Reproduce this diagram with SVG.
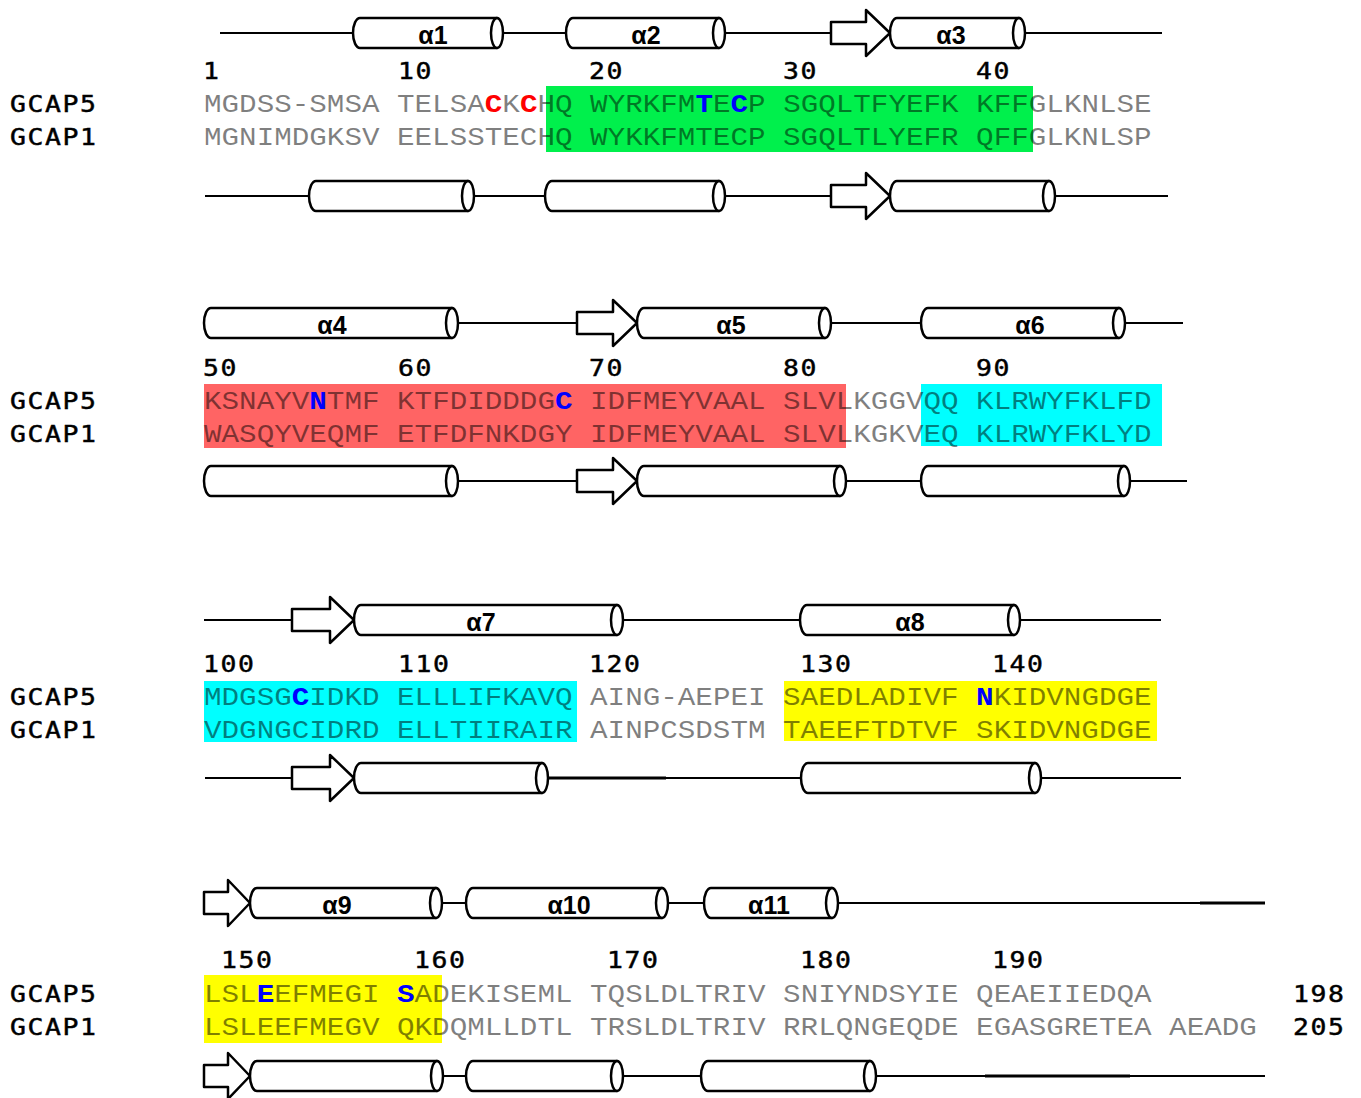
<svg xmlns="http://www.w3.org/2000/svg" width="1361" height="1098" viewBox="0 0 1361 1098">
<style>
.seq{font-family:"Liberation Mono",monospace;font-size:29.25px;fill:#000;fill-opacity:.5}
.r{fill:#ff0000;fill-opacity:1;font-weight:bold}
.b{fill:#0000ff;fill-opacity:1;font-weight:bold}
.num{font-family:"DejaVu Sans Mono",monospace;font-size:23px;letter-spacing:1.4px;fill:#000;stroke:#000;stroke-width:.45}
.hl{font-family:"Liberation Sans",sans-serif;font-weight:bold;font-size:25px;text-anchor:middle;fill:#000}
.cyl,.arr{fill:#fff;stroke:#000;stroke-width:2.5;stroke-linejoin:round}
.bb{stroke:#000;stroke-width:2;fill:none}
.bt{stroke:#000;stroke-width:2.8;fill:none}
</style>
<rect width="1361" height="1098" fill="#fff"/>
<g id="highlights">
<rect x="546" y="86" width="487" height="66" fill="#00f04c"/>
<rect x="204" y="384" width="642" height="64" fill="#ff6464"/>
<rect x="921" y="384" width="241" height="62" fill="#00ffff"/>
<rect x="204" y="681" width="373" height="61" fill="#00ffff"/>
<rect x="784" y="681" width="373" height="60" fill="#ffff00"/>
<rect x="204" y="975" width="238" height="68" fill="#ffff00"/>
</g>
<g id="connectors">
<path class="bb" d="M220,33H353M497,33H566M719,33H831M1019,33H1162"/>
<path class="bb" d="M205,196H309M468,196H545M719,196H831M1049,196H1168"/>
<path class="bb" d="M452,323H577M825,323H921M1119,323H1183"/>
<path class="bb" d="M452,481H577M840,481H921M1124,481H1187"/>
<path class="bb" d="M204,620H292M617,620H800M1014,620H1161"/>
<path class="bb" d="M205,778H292M542,778H801M1035,778H1181"/>
<path class="bt" d="M548,778H666"/>
<path class="bb" d="M436,903H466M662,903H704M832,903H1265"/>
<path class="bt" d="M1200,903H1265"/>
<path class="bb" d="M437,1076H466M617,1076H701M870,1076H1265"/>
<path class="bt" d="M985,1076H1130"/>
</g>
<g id="row1-top">
<g id="a1"><path class="cyl" d="M497,18H360A7,15 0 0 0 360,48H497Z"/><ellipse class="cyl" cx="497" cy="33" rx="6" ry="15"/><text class="hl" x="433" y="44">α1</text></g>
<g id="a2"><path class="cyl" d="M719,18H573A7,15 0 0 0 573,48H719Z"/><ellipse class="cyl" cx="719" cy="33" rx="6" ry="15"/><text class="hl" x="646" y="44">α2</text></g>
<g id="s1"><path class="arr" d="M831,22H866V10L890,33L866,56V44H831Z"/></g>
<g id="a3"><path class="cyl" d="M1019,18H897A7,15 0 0 0 897,48H1019Z"/><ellipse class="cyl" cx="1019" cy="33" rx="6" ry="15"/><text class="hl" x="951" y="44">α3</text></g>
</g>
<g id="row1-bottom">
<g id="b1"><path class="cyl" d="M468,181H316A7,15 0 0 0 316,211H468Z"/><ellipse class="cyl" cx="468" cy="196" rx="6" ry="15"/></g>
<g id="b2"><path class="cyl" d="M719,181H552A7,15 0 0 0 552,211H719Z"/><ellipse class="cyl" cx="719" cy="196" rx="6" ry="15"/></g>
<g id="bs1"><path class="arr" d="M831,185H866V173L890,196L866,219V207H831Z"/></g>
<g id="b3"><path class="cyl" d="M1049,181H897A7,15 0 0 0 897,211H1049Z"/><ellipse class="cyl" cx="1049" cy="196" rx="6" ry="15"/></g>
</g>
<g id="row2-top">
<g id="a4"><path class="cyl" d="M452,308H211A7,15 0 0 0 211,338H452Z"/><ellipse class="cyl" cx="452" cy="323" rx="6" ry="15"/><text class="hl" x="332" y="334">α4</text></g>
<g id="s2"><path class="arr" d="M577,312H613V300L637,323L613,346V334H577Z"/></g>
<g id="a5"><path class="cyl" d="M825,308H644A7,15 0 0 0 644,338H825Z"/><ellipse class="cyl" cx="825" cy="323" rx="6" ry="15"/><text class="hl" x="731" y="334">α5</text></g>
<g id="a6"><path class="cyl" d="M1119,308H928A7,15 0 0 0 928,338H1119Z"/><ellipse class="cyl" cx="1119" cy="323" rx="6" ry="15"/><text class="hl" x="1030" y="334">α6</text></g>
</g>
<g id="row2-bottom">
<g id="b4"><path class="cyl" d="M452,466H211A7,15 0 0 0 211,496H452Z"/><ellipse class="cyl" cx="452" cy="481" rx="6" ry="15"/></g>
<g id="bs2"><path class="arr" d="M577,470H613V458L637,481L613,504V492H577Z"/></g>
<g id="b5"><path class="cyl" d="M840,466H644A7,15 0 0 0 644,496H840Z"/><ellipse class="cyl" cx="840" cy="481" rx="6" ry="15"/></g>
<g id="b6"><path class="cyl" d="M1124,466H928A7,15 0 0 0 928,496H1124Z"/><ellipse class="cyl" cx="1124" cy="481" rx="6" ry="15"/></g>
</g>
<g id="row3-top">
<g id="s3"><path class="arr" d="M292,609H330V597L354,620L330,643V631H292Z"/></g>
<g id="a7"><path class="cyl" d="M617,605H361A7,15 0 0 0 361,635H617Z"/><ellipse class="cyl" cx="617" cy="620" rx="6" ry="15"/><text class="hl" x="481" y="631">α7</text></g>
<g id="a8"><path class="cyl" d="M1014,605H807A7,15 0 0 0 807,635H1014Z"/><ellipse class="cyl" cx="1014" cy="620" rx="6" ry="15"/><text class="hl" x="910" y="631">α8</text></g>
</g>
<g id="row3-bottom">
<g id="bs3"><path class="arr" d="M292,767H330V755L354,778L330,801V789H292Z"/></g>
<g id="b7"><path class="cyl" d="M542,763H361A7,15 0 0 0 361,793H542Z"/><ellipse class="cyl" cx="542" cy="778" rx="6" ry="15"/></g>
<g id="b8"><path class="cyl" d="M1035,763H808A7,15 0 0 0 808,793H1035Z"/><ellipse class="cyl" cx="1035" cy="778" rx="6" ry="15"/></g>
</g>
<g id="row4-top">
<g id="s4"><path class="arr" d="M204,892H228V880L250,903L228,926V914H204Z"/></g>
<g id="a9"><path class="cyl" d="M436,888H257A7,15 0 0 0 257,918H436Z"/><ellipse class="cyl" cx="436" cy="903" rx="6" ry="15"/><text class="hl" x="337" y="914">α9</text></g>
<g id="a10"><path class="cyl" d="M662,888H473A7,15 0 0 0 473,918H662Z"/><ellipse class="cyl" cx="662" cy="903" rx="6" ry="15"/><text class="hl" x="569" y="914">α10</text></g>
<g id="a11"><path class="cyl" d="M832,888H711A7,15 0 0 0 711,918H832Z"/><ellipse class="cyl" cx="832" cy="903" rx="6" ry="15"/><text class="hl" x="769" y="914">α11</text></g>
</g>
<g id="row4-bottom">
<g id="bs4"><path class="arr" d="M204,1065H228V1053L250,1076L228,1099V1087H204Z"/></g>
<g id="b9"><path class="cyl" d="M437,1061H257A7,15 0 0 0 257,1091H437Z"/><ellipse class="cyl" cx="437" cy="1076" rx="6" ry="15"/></g>
<g id="b10"><path class="cyl" d="M617,1061H473A7,15 0 0 0 473,1091H617Z"/><ellipse class="cyl" cx="617" cy="1076" rx="6" ry="15"/></g>
<g id="b11"><path class="cyl" d="M870,1061H708A7,15 0 0 0 708,1091H870Z"/><ellipse class="cyl" cx="870" cy="1076" rx="6" ry="15"/></g>
</g>
<g id="numbers" class="num">
<text transform="translate(203 79) scale(1.15 1)">1</text><text transform="translate(398 79) scale(1.15 1)">10</text><text transform="translate(589 79) scale(1.15 1)">20</text><text transform="translate(783 79) scale(1.15 1)">30</text><text transform="translate(976 79) scale(1.15 1)">40</text>
<text transform="translate(203 376) scale(1.15 1)">50</text><text transform="translate(398 376) scale(1.15 1)">60</text><text transform="translate(589 376) scale(1.15 1)">70</text><text transform="translate(783 376) scale(1.15 1)">80</text><text transform="translate(976 376) scale(1.15 1)">90</text>
<text transform="translate(203 672) scale(1.15 1)">100</text><text transform="translate(398 672) scale(1.15 1)">110</text><text transform="translate(589 672) scale(1.15 1)">120</text><text transform="translate(800 672) scale(1.15 1)">130</text><text transform="translate(992 672) scale(1.15 1)">140</text>
<text transform="translate(221 968) scale(1.15 1)">150</text><text transform="translate(414 968) scale(1.15 1)">160</text><text transform="translate(607 968) scale(1.15 1)">170</text><text transform="translate(800 968) scale(1.15 1)">180</text><text transform="translate(992 968) scale(1.15 1)">190</text>
<text transform="translate(1293 1002) scale(1.15 1)">198</text><text transform="translate(1293 1035) scale(1.15 1)">205</text>
</g>
<g id="labels" class="num">
<text transform="translate(10 112) scale(1.15 1)">GCAP5</text><text transform="translate(10 145) scale(1.15 1)">GCAP1</text>
<text transform="translate(10 409) scale(1.15 1)">GCAP5</text><text transform="translate(10 442) scale(1.15 1)">GCAP1</text>
<text transform="translate(10 705) scale(1.15 1)">GCAP5</text><text transform="translate(10 738) scale(1.15 1)">GCAP1</text>
<text transform="translate(10 1002) scale(1.15 1)">GCAP5</text><text transform="translate(10 1035) scale(1.15 1)">GCAP1</text>
</g>
<g id="sequences">
<text class="seq" transform="translate(204 112) scale(1 .87)">MGDSS-SMSA TELSA<tspan class="r">C</tspan>K<tspan class="r">C</tspan>HQ WYRKFM<tspan class="b">T</tspan>E<tspan class="b">C</tspan>P SGQLTFYEFK KFFGLKNLSE</text>
<text class="seq" transform="translate(204 145) scale(1 .87)">MGNIMDGKSV EELSSTECHQ WYKKFMTECP SGQLTLYEFR QFFGLKNLSP</text>
<text class="seq" transform="translate(204 409) scale(1 .87)">KSNAYV<tspan class="b">N</tspan>TMF KTFDIDDDG<tspan class="b">C</tspan> IDFMEYVAAL SLVLKGGVQQ KLRWYFKLFD</text>
<text class="seq" transform="translate(204 442) scale(1 .87)">WASQYVEQMF ETFDFNKDGY IDFMEYVAAL SLVLKGKVEQ KLRWYFKLYD</text>
<text class="seq" transform="translate(204 705) scale(1 .87)">MDGSG<tspan class="b">C</tspan>IDKD ELLLIFKAVQ AING-AEPEI SAEDLADIVF <tspan class="b">N</tspan>KIDVNGDGE</text>
<text class="seq" transform="translate(204 738) scale(1 .87)">VDGNGCIDRD ELLTIIRAIR AINPCSDSTM TAEEFTDTVF SKIDVNGDGE</text>
<text class="seq" transform="translate(204 1002) scale(1 .87)">LSL<tspan class="b">E</tspan>EFMEGI <tspan class="b">S</tspan>ADEKISEML TQSLDLTRIV SNIYNDSYIE QEAEIIEDQA</text>
<text class="seq" transform="translate(204 1035) scale(1 .87)">LSLEEFMEGV QKDQMLLDTL TRSLDLTRIV RRLQNGEQDE EGASGRETEA AEADG</text>
</g>
</svg>
